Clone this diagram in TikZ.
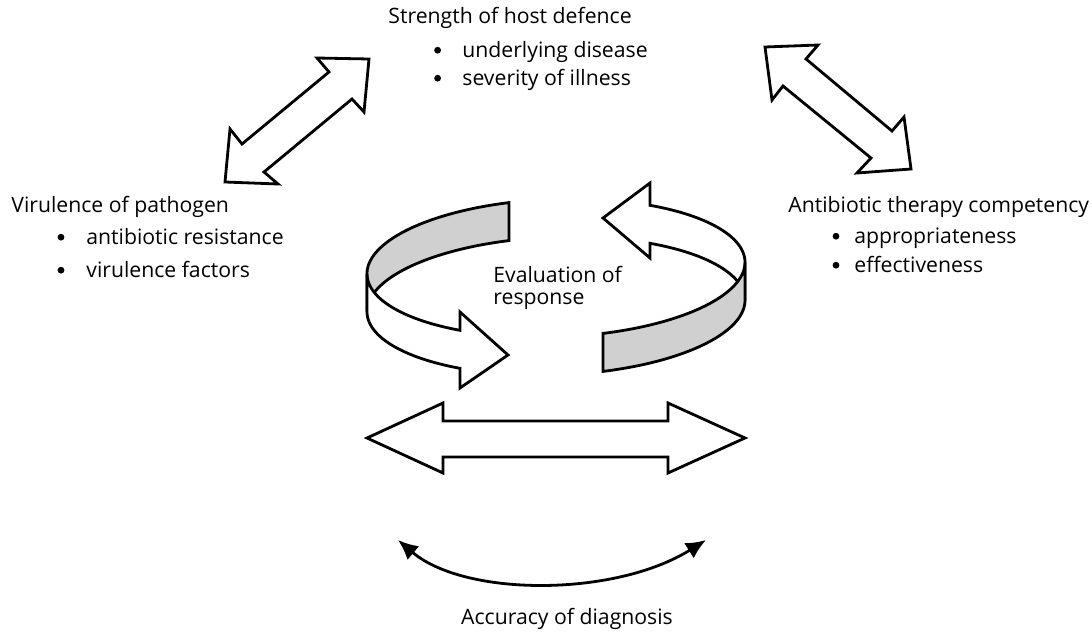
\documentclass[tikz,border=0pt]{standalone}
\usepackage{fontspec}
\setmainfont{Open Sans}
\usetikzlibrary{arrows.meta}

\definecolor{bandgray}{RGB}{208,208,208}

\begin{document}
\begin{tikzpicture}[x=0.5pt, y=-0.5pt, line width=1.4pt,
  txt/.style={inner sep=0, anchor=base west, font=\fontsize{10.6}{13}\selectfont},
  fat/.style={draw, fill=white},
  band/.style={draw, fill=bandgray},
  declare function={ex(\t)=556+189*cos(\t); ey(\t)=268-69*sin(\t)-5.7*cos(\t);}]

\useasboundingbox (0,0) rectangle (1092,637);

% labels
\node[txt] (host) at (387,24) {Strength of host defence};
\node[txt] (host1) at (461,57) {underlying disease};
\node[txt] (host2) at (461,85) {severity of illness};

\node[txt] (vir) at (10,212) {Virulence of pathogen};
\node[txt] (vir1) at (85,244) {antibiotic resistance};
\node[txt] (vir2) at (85,277) {virulence factors};

\node[txt] (abx) at (787,212) {Antibiotic therapy competency};
\node[txt] (abx1) at (853,243) {appropriateness};
\node[txt] (abx2) at (853,272) {effectiveness};

\node[txt] (eval1) at (492,282) {Evaluation of};
\node[txt] (eval2) at (492,304) {response};

\node[txt, anchor=base] (acc) at (567,624) {Accuracy of diagnosis};

% bullets
\foreach \n/\s in {host1/11.7pt, host2/11.7pt, vir1/12pt, vir2/12pt, abx1/8.5pt, abx2/8.5pt}
  \fill ([xshift=-\s, yshift=3.4pt]\n.base west) circle[radius=1.7pt];

% hollow double arrows
\draw[fat] (369,59) -- (317,58) -- (329,72) -- (242,144) -- (230,129) -- (225,182)
  -- (278,184) -- (264,172) -- (352,99) -- (364,112) -- cycle;

\draw[fat] (765,47) -- (818,45) -- (806,59) -- (892,131) -- (904,117) -- (911,169)
  -- (857,173) -- (871,158) -- (783,86) -- (772,100) -- cycle;

\draw[fat] (367,438) -- (443,403) -- (443,421) -- (668,421) -- (668,403) -- (745,438)
  -- (668,473) -- (668,457) -- (443,457) -- (443,473) -- cycle;

% ring of two ribbons
\filldraw[band] plot[domain=104.4:180, samples=60, variable=\t] ({ex(\t)}, {ey(\t)})
  -- plot[domain=180:104.4, samples=60, variable=\t] ({ex(\t)}, {ey(\t)+38}) -- cycle;

\filldraw[fat] plot[domain=0:60.2, samples=60, variable=\t] ({ex(\t)}, {ey(\t)})
  -- (650,183) -- (603,218) -- (650,258)
  -- plot[domain=60.2:0, samples=60, variable=\t] ({ex(\t)}, {ey(\t)+38}) -- cycle;

\filldraw[fat] plot[domain=180:239.5, samples=60, variable=\t] ({ex(\t)}, {ey(\t)})
  -- (460,312) -- (508,355) -- (460,388)
  -- plot[domain=239.5:180, samples=60, variable=\t] ({ex(\t)}, {ey(\t)+38}) -- cycle;

\filldraw[band] plot[domain=284.4:360, samples=60, variable=\t] ({ex(\t)}, {ey(\t)})
  -- plot[domain=360:284.4, samples=60, variable=\t] ({ex(\t)}, {ey(\t)+38}) -- cycle;

% curved arrow above diagnosis
\coordinate (diagL) at (398,540);
\coordinate (diagR) at (706,540);
\draw[{Latex[length=10pt,width=9pt]}-{Latex[length=10pt,width=9pt]}]
  (diagL) .. controls (465,597) and (615,597) .. (diagR);

\end{tikzpicture}
\end{document}
